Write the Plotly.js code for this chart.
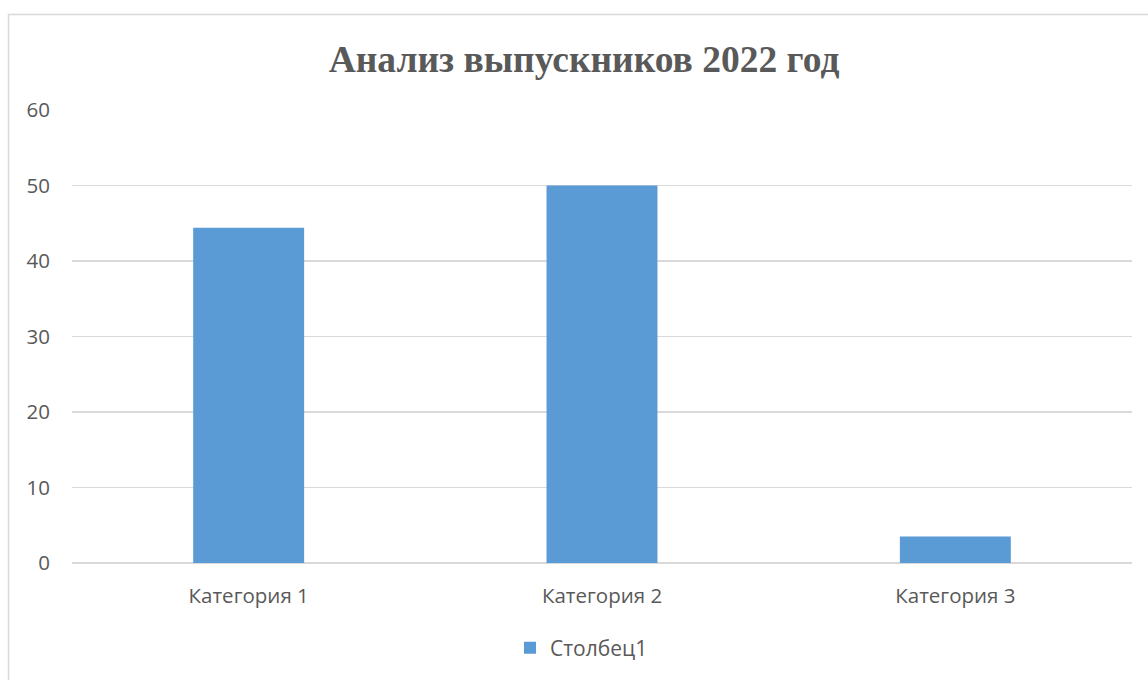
<!DOCTYPE html>
<html>
<head>
<meta charset="utf-8">
<script src="https://cdn.plot.ly/plotly-3.0.1.min.js"></script>
<style>html,body{margin:0;padding:0;background:#fff;}#chart{width:1148px;height:680px;}</style>
</head>
<body>
<div id="chart"></div>
<script>
const categories = ["Категория 1", "Категория 2", "Категория 3"];
const values = [44.4, 50, 3.5];
const seriesName = "Столбец1";
const yTicks = [0, 10, 20, 30, 40, 50, 60];
const titleText = "Анализ выпускников 2022 год";

const W = 1148, H = 680;
const mL = 72, mR = 16, mT = 110, mB = 117;
const pw = W - mL - mR, ph = H - mT - mB;
const px = x => (x - mL) / pw;
const py = y => (H - mB - y) / ph;
const fontFam = '"Open Sans", "Noto Sans", sans-serif';

const trace = {
  type: 'bar',
  x: categories,
  y: values,
  name: seriesName,
  marker: {color: '#5B9BD5'},
  showlegend: true,
  hoverinfo: 'none'
};

const layout = {
  width: W, height: H,
  margin: {l: mL, r: mR, t: mT, b: mB, pad: 0},
  paper_bgcolor: '#ffffff',
  plot_bgcolor: '#ffffff',
  bargap: 0.686,
  title: {
    text: '<b>' + titleText + '</b>',
    font: {family: '"Liberation Serif", "Times New Roman", serif', size: 37.5, color: '#595959'},
    xref: 'container', x: 584 / W, xanchor: 'center',
    yref: 'container', y: 1 - 59 / H, yanchor: 'middle'
  },
  xaxis: {
    type: 'category',
    showgrid: false,
    zeroline: false,
    showline: false,
    ticks: '',
    ticklabelstandoff: 18,
    tickfont: {family: fontFam, size: 20.5, color: '#595959'}
  },
  yaxis: {
    range: [0, 60],
    tickvals: yTicks,
    ticktext: yTicks.map(String),
    showgrid: true,
    gridcolor: '#d9d9d9',
    gridwidth: 1.5,
    zeroline: true,
    zerolinecolor: '#d9d9d9',
    zerolinewidth: 1.5,
    showline: false,
    ticks: '',
    ticklabelstandoff: 21,
    tickfont: {family: fontFam, size: 20.5, color: '#595959'},
    fixedrange: true
  },
  showlegend: true,
  legend: {
    orientation: 'h',
    x: px(510), xanchor: 'left',
    y: py(648), yanchor: 'middle',
    font: {family: fontFam, size: 21, color: '#595959'},
    itemwidth: 30,
    bgcolor: 'rgba(0,0,0,0)'
  },
  shapes: [{
    type: 'rect', xref: 'paper', yref: 'paper', layer: 'below',
    x0: px(8.5), x1: px(1160), y0: py(700), y1: py(14.5),
    line: {color: '#d9d9d9', width: 1.5},
    fillcolor: 'rgba(0,0,0,0)'
  }]
};

Plotly.newPlot('chart', [trace], layout, {displayModeBar: false, staticPlot: true});
</script>
</body>
</html>
